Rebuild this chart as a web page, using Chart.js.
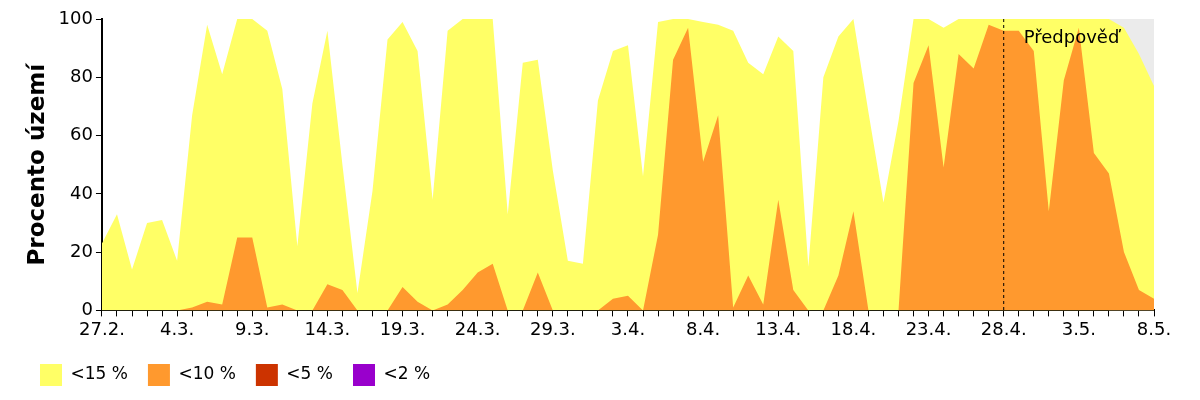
<!DOCTYPE html>
<html>
<head>
<meta charset="utf-8">
<script src="https://cdn.jsdelivr.net/npm/chart.js@4"></script>
<style>
body { margin: 0; background: #fff; }
#wrap { width: 1200px; height: 400px; }
</style>
</head>
<body>
<div id="wrap"><canvas id="areaChart"></canvas></div>
<script>
const days = [
    '27.2.', '28.2.', '1.3.', '2.3.', '3.3.', '4.3.', '5.3.', '6.3.', '7.3.', '8.3.',
    '9.3.', '10.3.', '11.3.', '12.3.', '13.3.', '14.3.', '15.3.', '16.3.', '17.3.', '18.3.',
    '19.3.', '20.3.', '21.3.', '22.3.', '23.3.', '24.3.', '25.3.', '26.3.', '27.3.', '28.3.',
    '29.3.', '30.3.', '31.3.', '1.4.', '2.4.', '3.4.', '4.4.', '5.4.', '6.4.', '7.4.',
    '8.4.', '9.4.', '10.4.', '11.4.', '12.4.', '13.4.', '14.4.', '15.4.', '16.4.', '17.4.',
    '18.4.', '19.4.', '20.4.', '21.4.', '22.4.', '23.4.', '24.4.', '25.4.', '26.4.', '27.4.',
    '28.4.', '29.4.', '30.4.', '1.5.', '2.5.', '3.5.', '4.5.', '5.5.', '6.5.', '7.5.', '8.5.'
];
const below15 = [
    23, 33, 14, 30, 31, 17, 67, 98, 81, 100,
    100, 96, 76, 22, 71, 96, 50, 6, 41, 93,
    99, 89, 38, 96, 100, 100, 100, 33, 85, 86,
    48, 17, 16, 72, 89, 91, 46, 99, 100, 100,
    99, 98, 96, 85, 81, 94, 89, 15, 80, 94,
    100, 68, 37, 65, 100, 100, 97, 100, 100, 100,
    100, 100, 100, 100, 100, 100, 100, 100, 97, 88, 77
];
const below10 = [
    0, 0, 0, 0, 0, 0, 1, 3, 2, 25,
    25, 1, 2, 0, 0, 9, 7, 0, 0, 0,
    8, 3, 0, 2, 7, 13, 16, 0, 0, 13,
    0, 0, 0, 0, 4, 5, 0, 26, 86, 97,
    51, 67, 1, 12, 2, 38, 7, 0, 0, 12,
    34, 0, 0, 0, 78, 91, 49, 88, 83, 98,
    96, 96, 89, 34, 79, 97, 54, 47, 20, 7, 4
];
const below5 = days.map(() => 0);
const below2 = days.map(() => 0);
// no forecast data at the top right end
const noData = [
    null, null, null, null, null, null, null, null, null, null,
    null, null, null, null, null, null, null, null, null, null,
    null, null, null, null, null, null, null, null, null, null,
    null, null, null, null, null, null, null, null, null, null,
    null, null, null, null, null, null, null, null, null, null,
    null, null, null, null, null, null, null, null, null, null,
    null, null, null, null, null, null, null, 100, 100, 100, 100
];
const forecastStart = '28.4.';

const forecastLine = {
    id: 'forecastLine',
    afterDatasetsDraw(chart) {
        const ctx = chart.ctx;
        const x = chart.scales.x.getPixelForValue(days.indexOf(forecastStart));
        const area = chart.chartArea;
        ctx.save();
        ctx.strokeStyle = '#000';
        ctx.lineWidth = 1;
        ctx.setLineDash([3, 3]);
        ctx.beginPath();
        ctx.moveTo(x, area.top);
        ctx.lineTo(x, area.bottom);
        ctx.stroke();
        ctx.setLineDash([]);
        ctx.fillStyle = '#000';
        ctx.font = '18px "DejaVu Sans"';
        ctx.textBaseline = 'top';
        ctx.fillText('Předpověď', x + 20, area.top + 10);
        ctx.restore();
    }
};

function area(label, data, color, order, legend) {
    return {
        label: label,
        data: data,
        backgroundColor: color,
        borderColor: color,
        borderWidth: 0,
        pointRadius: 0,
        fill: 'origin',
        tension: 0,
        order: order,
        hideInLegend: !legend
    };
}

new Chart(document.getElementById('areaChart'), {
    type: 'line',
    data: {
        labels: days,
        datasets: [
            area('<15 %', below15, '#FFFF66', 4, true),
            area('<10 %', below10, '#FF992E', 3, true),
            area('<5 %', below5, '#CC3300', 2, true),
            area('<2 %', below2, '#9900CC', 1, true),
            area('', noData, '#EBEBEB', 5, false)
        ]
    },
    options: {
        responsive: true,
        maintainAspectRatio: false,
        animation: false,
        layout: { padding: { left: 20, right: 46, top: 19, bottom: 4 } },
        plugins: {
            tooltip: { enabled: false },
            legend: {
                position: 'bottom',
                align: 'start',
                labels: {
                    boxWidth: 22,
                    boxHeight: 22,
                    padding: 20,
                    color: '#000',
                    font: { size: 17, family: '"DejaVu Sans"' },
                    sort: (a, b) => a.datasetIndex - b.datasetIndex,
                    filter: (item, data) => !data.datasets[item.datasetIndex].hideInLegend
                }
            }
        },
        scales: {
            x: {
                offset: false,
                border: { color: '#000', width: 2 },
                grid: { display: true, drawOnChartArea: false, tickLength: 6, color: '#000' },
                ticks: {
                    autoSkip: false,
                    maxRotation: 0,
                    color: '#000',
                    font: { size: 18, family: '"DejaVu Sans"' },
                    callback: (v, i) => (i % 5 === 0 ? days[i] : '')
                }
            },
            y: {
                min: 0,
                max: 100,
                border: { color: '#000', width: 2 },
                grid: { display: true, drawOnChartArea: false, tickLength: 6, color: '#000' },
                ticks: {
                    stepSize: 20,
                    color: '#000',
                    font: { size: 18, family: '"DejaVu Sans"' }
                },
                title: {
                    display: true,
                    text: 'Procento území',
                    color: '#000',
                    font: { size: 23, weight: 'bold', family: '"DejaVu Sans"' }
                }
            }
        }
    },
    plugins: [forecastLine]
});
</script>
</body>
</html>
